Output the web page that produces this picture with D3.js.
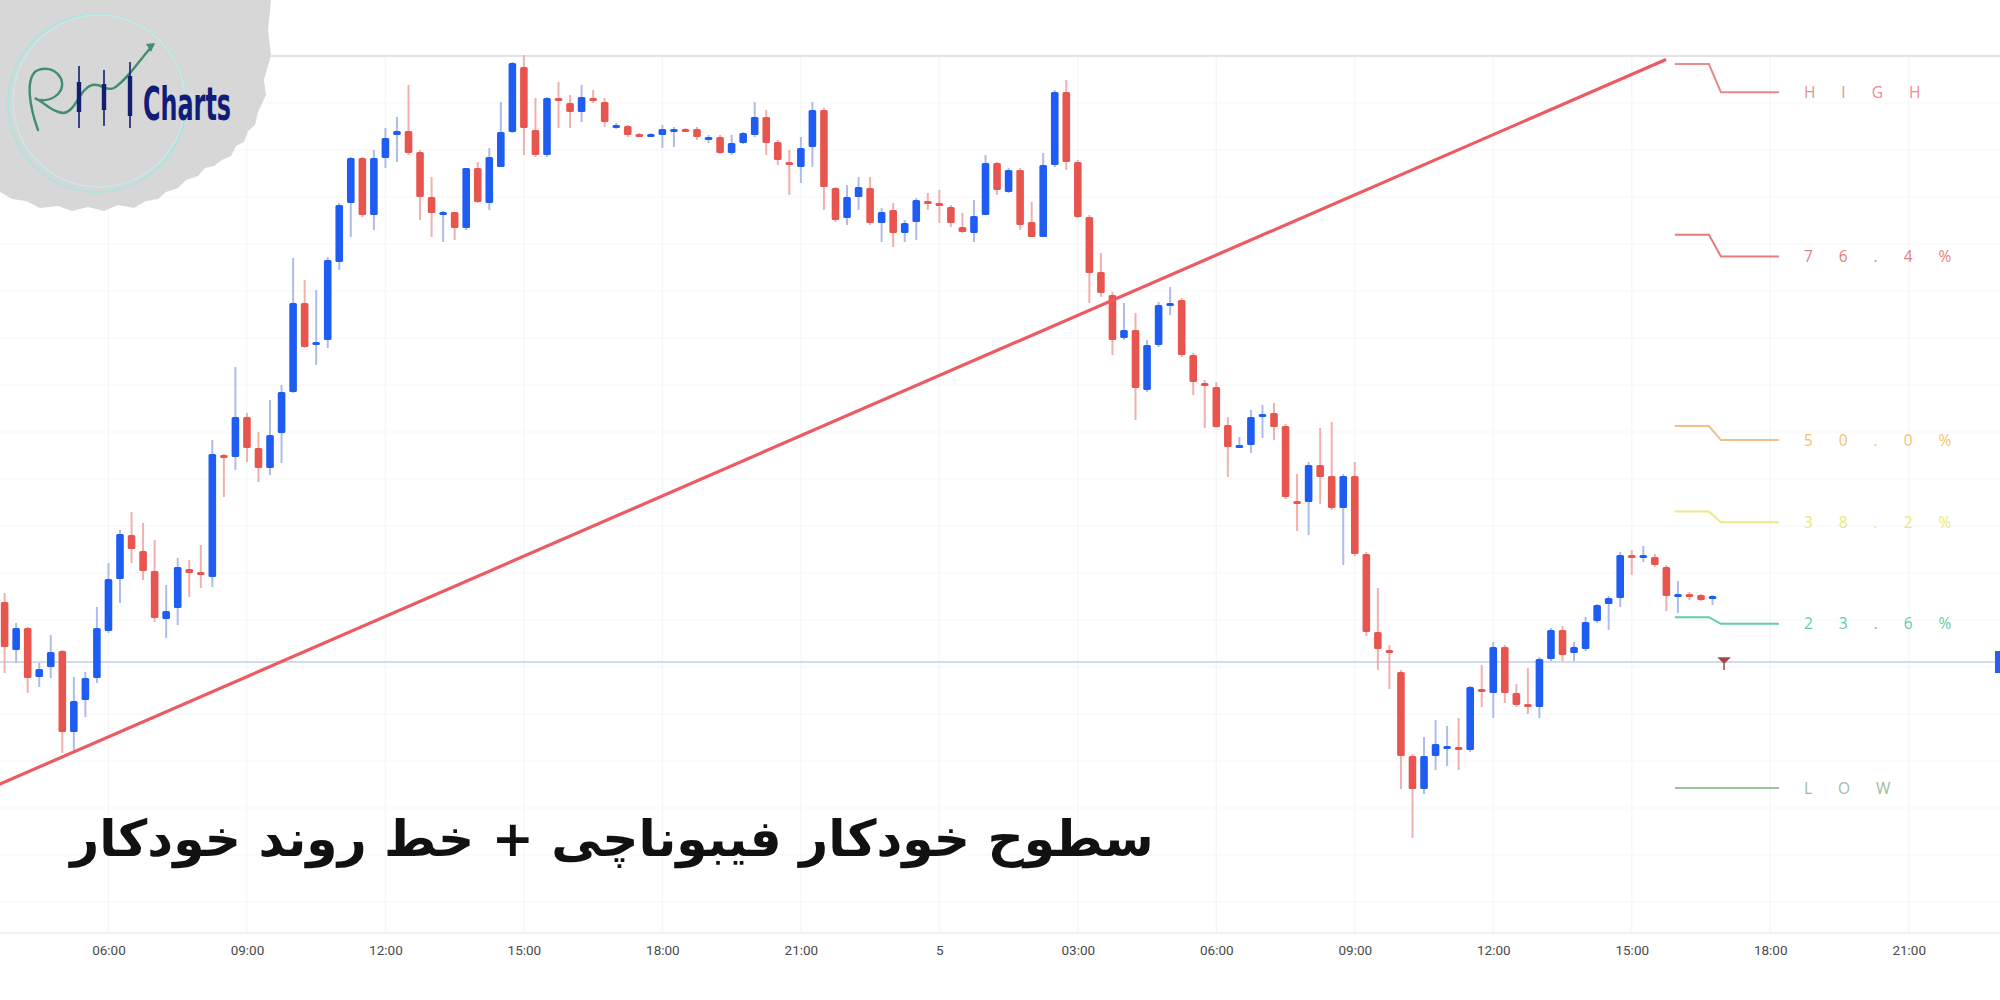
<!DOCTYPE html>
<html><head><meta charset="utf-8">
<script src="https://cdn.jsdelivr.net/npm/d3@7"></script>
<style>html,body{margin:0;padding:0;background:#fff;}svg{display:block;}</style>
</head><body>
<svg id="chart" width="2000" height="1000"></svg>
<script>
// ---------- DATA ----------
const startTime = Date.UTC(2023, 4, 4, 3, 45); // first 15-min candle (4th, 03:45)
const candleMinutes = 15;
const openP = [1899.8,1895.0,1897.2,1892.3,1893.3,1894.9,1886.8,1890.0,1892.2,1896.9,
1902.1,1906.5,1904.9,1902.9,1898.1,1899.2,1903.1,1902.8,1902.3,1914.5,
1914.3,1918.3,1915.2,1913.2,1916.7,1920.8,1929.7,1925.7,1926.0,1933.8,
1939.7,1944.2,1938.5,1944.2,1946.5,1946.9,1944.8,1940.3,1938.7,1938.8,
1937.2,1943.2,1939.7,1943.3,1946.8,1953.3,1947.0,1944.5,1950.2,1949.7,
1948.8,1950.2,1949.8,1947.2,1947.4,1946.6,1946.5,1946.5,1947.0,1947.1,
1947.1,1946.2,1946.3,1944.7,1945.7,1946.5,1948.3,1945.8,1943.8,1943.3,
1945.3,1949.0,1941.2,1938.2,1940.3,1941.2,1937.7,1939.0,1936.7,1937.8,
1939.9,1939.7,1939.3,1937.3,1936.7,1938.5,1943.7,1940.8,1943.0,1937.8,
1936.3,1943.5,1950.8,1943.8,1938.3,1932.8,1930.5,1926.2,1927.0,1921.0,
1925.5,1929.6,1930.0,1924.5,1921.7,1921.3,1917.5,1915.3,1915.5,1918.4,
1918.7,1917.4,1909.9,1909.8,1913.5,1912.4,1909.2,1912.4,1904.6,1896.8,
1895.0,1892.8,1884.4,1881.1,1884.4,1885.3,1885.3,1885.0,1891.1,1890.7,
1895.3,1890.7,1889.6,1889.3,1894.1,1897.0,1894.7,1895.1,1897.9,1899.6,
1900.2,1904.5,1904.3,1904.3,1903.3,1900.4,1900.6,1900.5,1900.1];
const highP = [1900.7,1897.7,1897.3,1893.7,1896.5,1895.0,1892.3,1892.8,1899.3,1903.7,
1907.0,1908.8,1907.7,1906.0,1901.5,1904.2,1904.0,1905.5,1916.0,1914.6,
1923.3,1918.7,1916.8,1920.0,1921.5,1934.2,1932.0,1931.0,1934.3,1939.7,
1944.3,1944.3,1945.0,1947.2,1948.3,1951.5,1945.0,1942.3,1938.9,1938.8,
1943.2,1943.8,1945.2,1949.8,1953.8,1954.5,1950.2,1950.3,1951.8,1950.5,
1951.5,1951.0,1950.2,1947.7,1947.5,1946.7,1946.7,1947.5,1947.3,1947.2,
1947.3,1946.5,1946.5,1946.5,1946.8,1949.8,1949.0,1946.0,1945.0,1946.3,
1949.8,1949.2,1941.3,1941.5,1942.3,1942.3,1939.2,1939.7,1938.0,1940.2,
1940.7,1941.0,1939.5,1938.7,1940.0,1944.5,1943.8,1943.2,1943.2,1939.8,
1944.7,1951.0,1952.0,1944.0,1938.5,1934.7,1930.8,1929.7,1928.7,1926.0,
1929.8,1931.3,1930.2,1924.7,1922.0,1921.8,1918.3,1916.3,1919.0,1919.5,
1919.7,1917.6,1912.6,1913.8,1917.2,1917.8,1912.6,1913.8,1904.8,1901.2,
1895.5,1893.0,1884.6,1886.3,1888.0,1887.4,1888.2,1891.4,1893.5,1895.8,
1895.5,1891.6,1893.2,1894.3,1897.2,1897.4,1895.8,1898.3,1899.6,1900.4,
1904.8,1905.0,1905.4,1904.6,1903.5,1901.9,1900.8,1900.6,1900.5];
const lowP = [1892.7,1893.7,1890.7,1891.3,1892.2,1884.7,1885.0,1888.3,1891.7,1896.7,
1899.7,1903.7,1902.0,1897.8,1896.2,1897.5,1900.3,1901.2,1901.3,1910.3,
1913.0,1913.8,1911.8,1912.5,1913.7,1920.7,1925.2,1923.5,1925.2,1933.0,
1936.3,1938.3,1937.0,1943.2,1943.8,1944.5,1938.0,1936.3,1935.8,1936.0,
1937.0,1939.7,1939.0,1943.3,1946.7,1944.5,1944.3,1944.3,1947.2,1947.2,
1947.8,1949.7,1947.3,1947.1,1946.3,1946.4,1946.4,1945.2,1945.3,1946.9,
1946.0,1945.7,1944.6,1944.5,1945.6,1946.3,1944.5,1943.5,1940.5,1941.7,
1943.3,1939.0,1937.8,1937.5,1939.0,1937.5,1935.8,1935.3,1935.8,1936.0,
1939.0,1937.7,1937.3,1936.7,1935.8,1938.5,1940.5,1940.7,1937.0,1936.3,
1936.3,1943.3,1943.0,1938.2,1929.7,1930.3,1924.5,1926.0,1918.0,1920.8,
1925.3,1928.5,1924.3,1920.5,1917.2,1917.2,1912.3,1915.2,1914.7,1916.2,
1916.0,1910.1,1906.9,1906.5,1909.6,1909.0,1903.5,1904.4,1896.4,1893.0,
1891.1,1881.1,1876.2,1880.6,1883.0,1883.4,1883.0,1884.8,1889.3,1888.2,
1889.7,1889.3,1888.6,1888.2,1893.9,1893.9,1893.9,1894.9,1897.7,1897.0,
1899.3,1902.5,1903.8,1903.3,1898.9,1898.7,1900.0,1899.9,1899.5];
const closeP = [1895.3,1897.2,1892.2,1893.1,1894.8,1886.8,1889.9,1892.2,1897.2,1902.1,
1906.6,1905.1,1902.9,1898.2,1898.9,1903.3,1902.7,1902.6,1914.6,1914.2,
1918.3,1915.2,1913.2,1916.5,1920.8,1929.7,1925.3,1925.8,1934.0,1939.5,
1944.2,1938.5,1944.2,1946.2,1946.9,1944.7,1940.3,1938.7,1938.8,1937.2,
1943.2,1939.8,1944.3,1946.8,1953.7,1947.2,1944.5,1950.2,1950.0,1948.8,
1950.3,1950.0,1947.8,1947.5,1946.5,1946.5,1946.6,1947.1,1947.1,1947.0,
1946.3,1946.3,1944.7,1945.7,1946.7,1948.3,1945.7,1944.0,1943.7,1945.2,
1949.0,1941.3,1938.0,1940.3,1941.3,1937.7,1938.8,1936.7,1937.7,1940.0,
1939.8,1939.6,1937.7,1936.8,1938.4,1943.7,1941.0,1943.0,1937.5,1936.3,
1943.5,1950.8,1943.8,1938.3,1932.7,1930.7,1926.0,1927.0,1921.2,1925.5,
1929.5,1929.7,1924.5,1921.8,1921.6,1917.3,1915.3,1915.5,1918.3,1918.6,
1917.3,1910.3,1909.7,1913.5,1912.3,1909.2,1912.4,1904.6,1896.8,1895.1,
1894.8,1884.4,1881.1,1884.4,1885.6,1885.4,1885.1,1891.3,1890.8,1895.3,
1890.7,1889.5,1889.5,1894.1,1897.0,1894.5,1895.3,1897.8,1899.5,1900.2,
1904.5,1904.3,1904.5,1903.5,1900.4,1900.6,1900.4,1900.0,1900.4];

// Fibonacci levels (auto)
const fibHigh = 1953.6, fibLow = 1881.2;
const fibRatios = [1, 0.764, 0.5, 0.382, 0.236, 0];
const fibLabels = ["HIGH", "76.4%", "50.0%", "38.2%", "23.6%", "LOW"];
const fibColors = ["#e98a8a", "#e57b7b", "#efbf8c", "#ecea84", "#5fd0a0", "#9cc49c"];
const fibTextColors = ["#e88e8e", "#e38080", "#f2c46a", "#ece77a", "#62ccaa", "#9cbd9c"];
const fibStartCandle = 145;

// Auto trend line anchors
const trendTimes = [Date.UTC(2023,4,4,3,39), Date.UTC(2023,4,5,15,43)];
const trendPrices = [1881.6, 1954.0];

const currentPrice = 1893.8;
const markerCandle = 149;

const titleText = "سطوح خودکار فیبوناچی + خط روند خودکار";
const gridPrices = [1949.7,1945.0,1940.3,1935.6,1930.9,1926.2,1921.5,1916.8,1912.1,1907.4,1902.7,1898.0,1893.3,1888.6,1883.9,1879.2,1874.5,1869.8];

// ---------- SCALES ----------
const W = 2000, H = 1000;
const svg = d3.select("#chart");
const candles = openP.map((o, i) => ({
  t: new Date(startTime + i * candleMinutes * 60000),
  o, h: highP[i], l: lowP[i], c: closeP[i]
}));
const x = d3.scaleUtc()
  .domain([new Date(Date.UTC(2023,4,4,3,39,1)), new Date(Date.UTC(2023,4,5,22,58,40))])
  .range([0, W]);
const y = d3.scaleLinear().domain([1960, 1860]).range([0, H]);
const tAt = i => new Date(startTime + i * candleMinutes * 60000);

// ---------- GRID ----------
const grid = svg.append("g");
grid.selectAll("line.h").data(gridPrices).join("line")
  .attr("x1", 0).attr("x2", W)
  .attr("y1", d => y(d)).attr("y2", d => y(d))
  .attr("stroke", "#f6f7f9").attr("stroke-width", 1);
const tickTimes = x.ticks(d3.utcHour.every(3));
grid.selectAll("line.v").data(tickTimes).join("line")
  .attr("x1", d => x(d)).attr("x2", d => x(d))
  .attr("y1", 56).attr("y2", 933)
  .attr("stroke", "#f5f6f8").attr("stroke-width", 1.2);
// top border
svg.append("line").attr("x1", 0).attr("x2", W).attr("y1", 56).attr("y2", 56)
  .attr("stroke", "#e4e4e4").attr("stroke-width", 2);
// bottom axis line
svg.append("line").attr("x1", 0).attr("x2", W).attr("y1", 933).attr("y2", 933)
  .attr("stroke", "#ececec").attr("stroke-width", 1.5);

// current price line
svg.append("line").attr("x1", 0).attr("x2", W)
  .attr("y1", y(currentPrice)).attr("y2", y(currentPrice))
  .attr("stroke", "#cfdcee").attr("stroke-width", 2);
svg.append("rect").attr("x", 1995).attr("y", y(currentPrice) - 11).attr("width", 8).attr("height", 22)
  .attr("fill", "#2a5cf0");

// ---------- TIME AXIS ----------
const axis = d3.axisBottom(x)
  .ticks(d3.utcHour.every(3))
  .tickSize(0)
  .tickFormat(d => d.getUTCHours() === 0 ? String(d.getUTCDate()) : d3.utcFormat("%H:%M")(d));
const ag = svg.append("g").attr("transform", "translate(0,942)").call(axis);
ag.select(".domain").remove();
ag.selectAll("text").attr("font-family", "Roboto, 'Liberation Sans', sans-serif")
  .attr("font-size", 13.5).attr("fill", "#4a4a4a");

// ---------- CANDLES ----------
const bw = 7.6;
const cg = svg.append("g");
cg.selectAll("line.wick").data(candles).join("line")
  .attr("x1", d => x(d.t)).attr("x2", d => x(d.t))
  .attr("y1", d => y(d.h)).attr("y2", d => y(d.l))
  .attr("stroke", d => d.c >= d.o ? "#aebcec" : "#f2b0ad").attr("stroke-width", 2);
cg.selectAll("rect.body").data(candles).join("rect")
  .attr("x", d => x(d.t) - bw / 2)
  .attr("width", bw)
  .attr("y", d => y(Math.max(d.o, d.c)))
  .attr("height", d => Math.max(3, Math.abs(y(d.o) - y(d.c))))
  .attr("rx", 1.5)
  .attr("fill", d => d.c >= d.o ? "#1f5cf2" : "#e8554f");

// ---------- TREND LINE ----------
svg.append("line")
  .attr("x1", x(trendTimes[0])).attr("y1", y(trendPrices[0]))
  .attr("x2", x(trendTimes[1])).attr("y2", y(trendPrices[1]))
  .attr("stroke", "#ec5b62").attr("stroke-width", 3.2).attr("stroke-linecap", "round");

// ---------- FIB LEVELS ----------
const fx0 = x(tAt(fibStartCandle)) - 3;
const fg = svg.append("g");
fibRatios.forEach((r, i) => {
  const lvl = fibLow + r * (fibHigh - fibLow);
  const lab = fibLow + 0.961 * r * (fibHigh - fibLow);
  const yl = y(lvl), yb = y(lab);
  fg.append("path")
    .attr("d", `M${fx0},${yl} L${fx0 + 34},${yl} L${fx0 + 46},${yb} L${fx0 + 104},${yb}`)
    .attr("fill", "none").attr("stroke", fibColors[i]).attr("stroke-width", 2);
  fg.append("text").attr("x", fx0 + 129).attr("y", yb)
    .attr("dy", "0.36em")
    .attr("font-family", "'Open Sans', 'DejaVu Sans', sans-serif")
    .attr("font-size", 15.5).attr("letter-spacing", 26)
    .attr("fill", fibTextColors[i]).text(fibLabels[i]);
});

// marker
const mx = x(tAt(markerCandle)), my = y(currentPrice);
svg.append("path").attr("d", `M${mx - 5},${my - 4} L${mx + 5},${my - 4} L${mx},${my + 1} Z M${mx},${my} L${mx},${my + 8}`)
  .attr("fill", "#a04848").attr("stroke", "#a04848").attr("stroke-width", 1.5);

// ---------- LOGO ----------
const logo = svg.append("g");
logo.append("path")
  .attr("d", "M0,0 L271,0 L268,30 L271,55 L264,80 L266,95 L258,112 L255,125 L248,131 L244,142 L236,146 L231,156 L222,160 L214,166 L205,168 L198,176 L186,180 L178,188 L166,192 L158,199 L146,201 L134,208 L118,205 L104,211 L88,207 L72,211 L58,206 L40,208 L26,201 L12,199 L0,192 Z")
  .attr("fill", "#d7d7d7");
logo.append("circle").attr("cx", 97).attr("cy", 103).attr("r", 89)
  .attr("fill", "none").attr("stroke", "#b3e2dc").attr("stroke-width", 2.2);
logo.append("circle").attr("cx", 99).attr("cy", 101).attr("r", 86)
  .attr("fill", "none").attr("stroke", "#c6ebe6").attr("stroke-width", 1.4);
logo.append("path")
  .attr("d", "M38,130 C30,108 25,80 36,71 C54,62 70,82 58,94 C50,102 38,101 35,98 C46,104 54,113 64,113 C76,111 80,88 92,85 C102,83 106,92 114,88 C127,80 138,62 153,45")
  .attr("fill", "none").attr("stroke", "#3f8f70").attr("stroke-width", 2.4).attr("stroke-linecap", "round");
logo.append("path").attr("d", "M146,44 L155,43 L151,52 Z").attr("fill", "#3f8f70");
[[79, 66, 128, 82, 112], [104, 70, 126, 84, 110], [130, 62, 128, 76, 116]].forEach(c => {
  logo.append("line").attr("x1", c[0]).attr("x2", c[0]).attr("y1", c[1]).attr("y2", c[2])
    .attr("stroke", "#13206f").attr("stroke-width", 1.6);
  logo.append("rect").attr("x", c[0] - 2.2).attr("width", 4.4).attr("y", c[3]).attr("height", c[4] - c[3])
    .attr("fill", "#13206f");
});
logo.append("text").attr("x", 143).attr("y", 120)
  .attr("font-family", "'DejaVu Sans Condensed', 'DejaVu Sans', sans-serif")
  .attr("font-weight", "bold").attr("font-size", 46)
  .attr("textLength", 88).attr("lengthAdjust", "spacingAndGlyphs")
  .attr("fill", "#111c78").text("Charts");

// ---------- TITLE ----------
const title = svg.append("text")
  .attr("x", 612).attr("y", 856)
  .attr("text-anchor", "middle")
  .attr("font-family", "'DejaVu Sans', sans-serif")
  .attr("font-weight", "bold").attr("font-size", 50)
  .attr("fill", "#111").text(titleText);
const tw = title.node().getComputedTextLength();
if (tw > 0) title.attr("font-size", 50 * 1084 / tw);
</script>
</body></html>
